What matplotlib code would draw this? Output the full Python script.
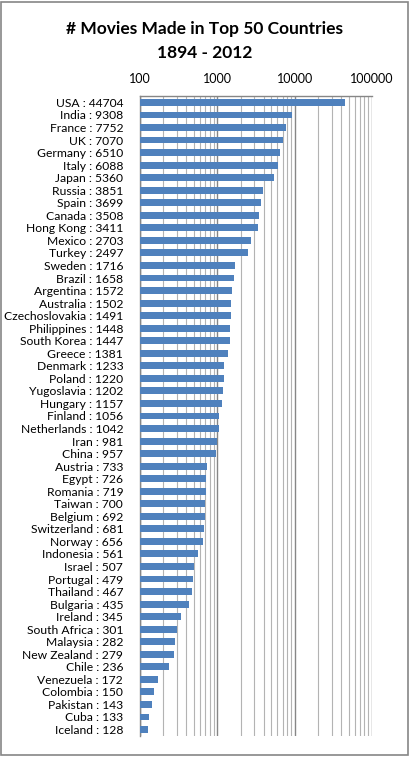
import matplotlib
matplotlib.use("Agg")
import matplotlib.pyplot as plt
from matplotlib.ticker import LogLocator, NullFormatter, FixedLocator
from matplotlib.patches import Rectangle

countries = ["USA", "India", "France", "UK", "Germany", "Italy", "Japan", "Russia",
             "Spain", "Canada", "Hong Kong", "Mexico", "Turkey", "Sweden", "Brazil",
             "Argentina", "Australia", "Czechoslovakia", "Philippines", "South Korea",
             "Greece", "Denmark", "Poland", "Yugoslavia", "Hungary", "Finland",
             "Netherlands", "Iran", "China", "Austria", "Egypt", "Romania", "Taiwan",
             "Belgium", "Switzerland", "Norway", "Indonesia", "Israel", "Portugal",
             "Thailand", "Bulgaria", "Ireland", "South Africa", "Malaysia",
             "New Zealand", "Chile", "Venezuela", "Colombia", "Pakistan", "Cuba",
             "Iceland"]
movies = [44704, 9308, 7752, 7070, 6510, 6088, 5360, 3851, 3699, 3508, 3411, 2703,
          2497, 1716, 1658, 1572, 1502, 1491, 1448, 1447, 1381, 1233, 1220, 1202,
          1157, 1056, 1042, 981, 957, 733, 726, 719, 700, 692, 681, 656, 561, 507,
          479, 467, 435, 345, 301, 282, 279, 236, 172, 150, 143, 133, 128]
tick_values = [100, 1000, 10000, 100000]

plt.rcParams['font.family'] = ['Lato', 'DejaVu Sans']

fig = plt.figure(figsize=(4.09, 7.57), dpi=100)
fig.patches.append(Rectangle((0.002, 0.002), 0.995, 0.995, transform=fig.transFigure,
                             fill=False, edgecolor='#868686', linewidth=1.2))

ax = fig.add_axes([0.342, 0.028, 0.5675, 0.845])
pos = list(range(len(countries)))
labels = [f"{c} : {v}" for c, v in zip(countries, movies)]

ax.set_xscale('log')
ax.barh(pos, movies, height=0.55, color='#4F81BD', zorder=3)
ax.set_xlim(100, 100000)
ax.set_ylim(len(countries) - 0.5, -0.5)

ax.xaxis.set_major_locator(FixedLocator(tick_values))
ax.xaxis.set_minor_locator(LogLocator(base=10, subs=range(2, 10)))
ax.xaxis.set_minor_formatter(NullFormatter())
ax.set_xticklabels([str(t) for t in tick_values], fontsize=9)
ax.xaxis.tick_top()
ax.tick_params(axis='x', which='both', length=0, pad=8)
ax.grid(True, axis='x', which='major', color='#868686', linewidth=1, zorder=0)
ax.grid(True, axis='x', which='minor', color='#B3B3B3', linewidth=0.8, zorder=0)

ax.set_yticks(pos)
ax.set_yticklabels(labels, fontsize=8.7)
ax.tick_params(axis='y', length=0, pad=12)

for side in ['right', 'bottom']:
    ax.spines[side].set_visible(False)
for side in ['left', 'top']:
    ax.spines[side].set_color('#868686')
    ax.spines[side].set_linewidth(1)

fig.text(0.5, 0.962, "# Movies Made in Top 50 Countries", ha='center', va='center',
         fontsize=12.5, fontweight='bold')
fig.text(0.5, 0.930, "1894 - 2012", ha='center', va='center',
         fontsize=12.5, fontweight='bold')

fig.savefig("out.png", dpi=100)
